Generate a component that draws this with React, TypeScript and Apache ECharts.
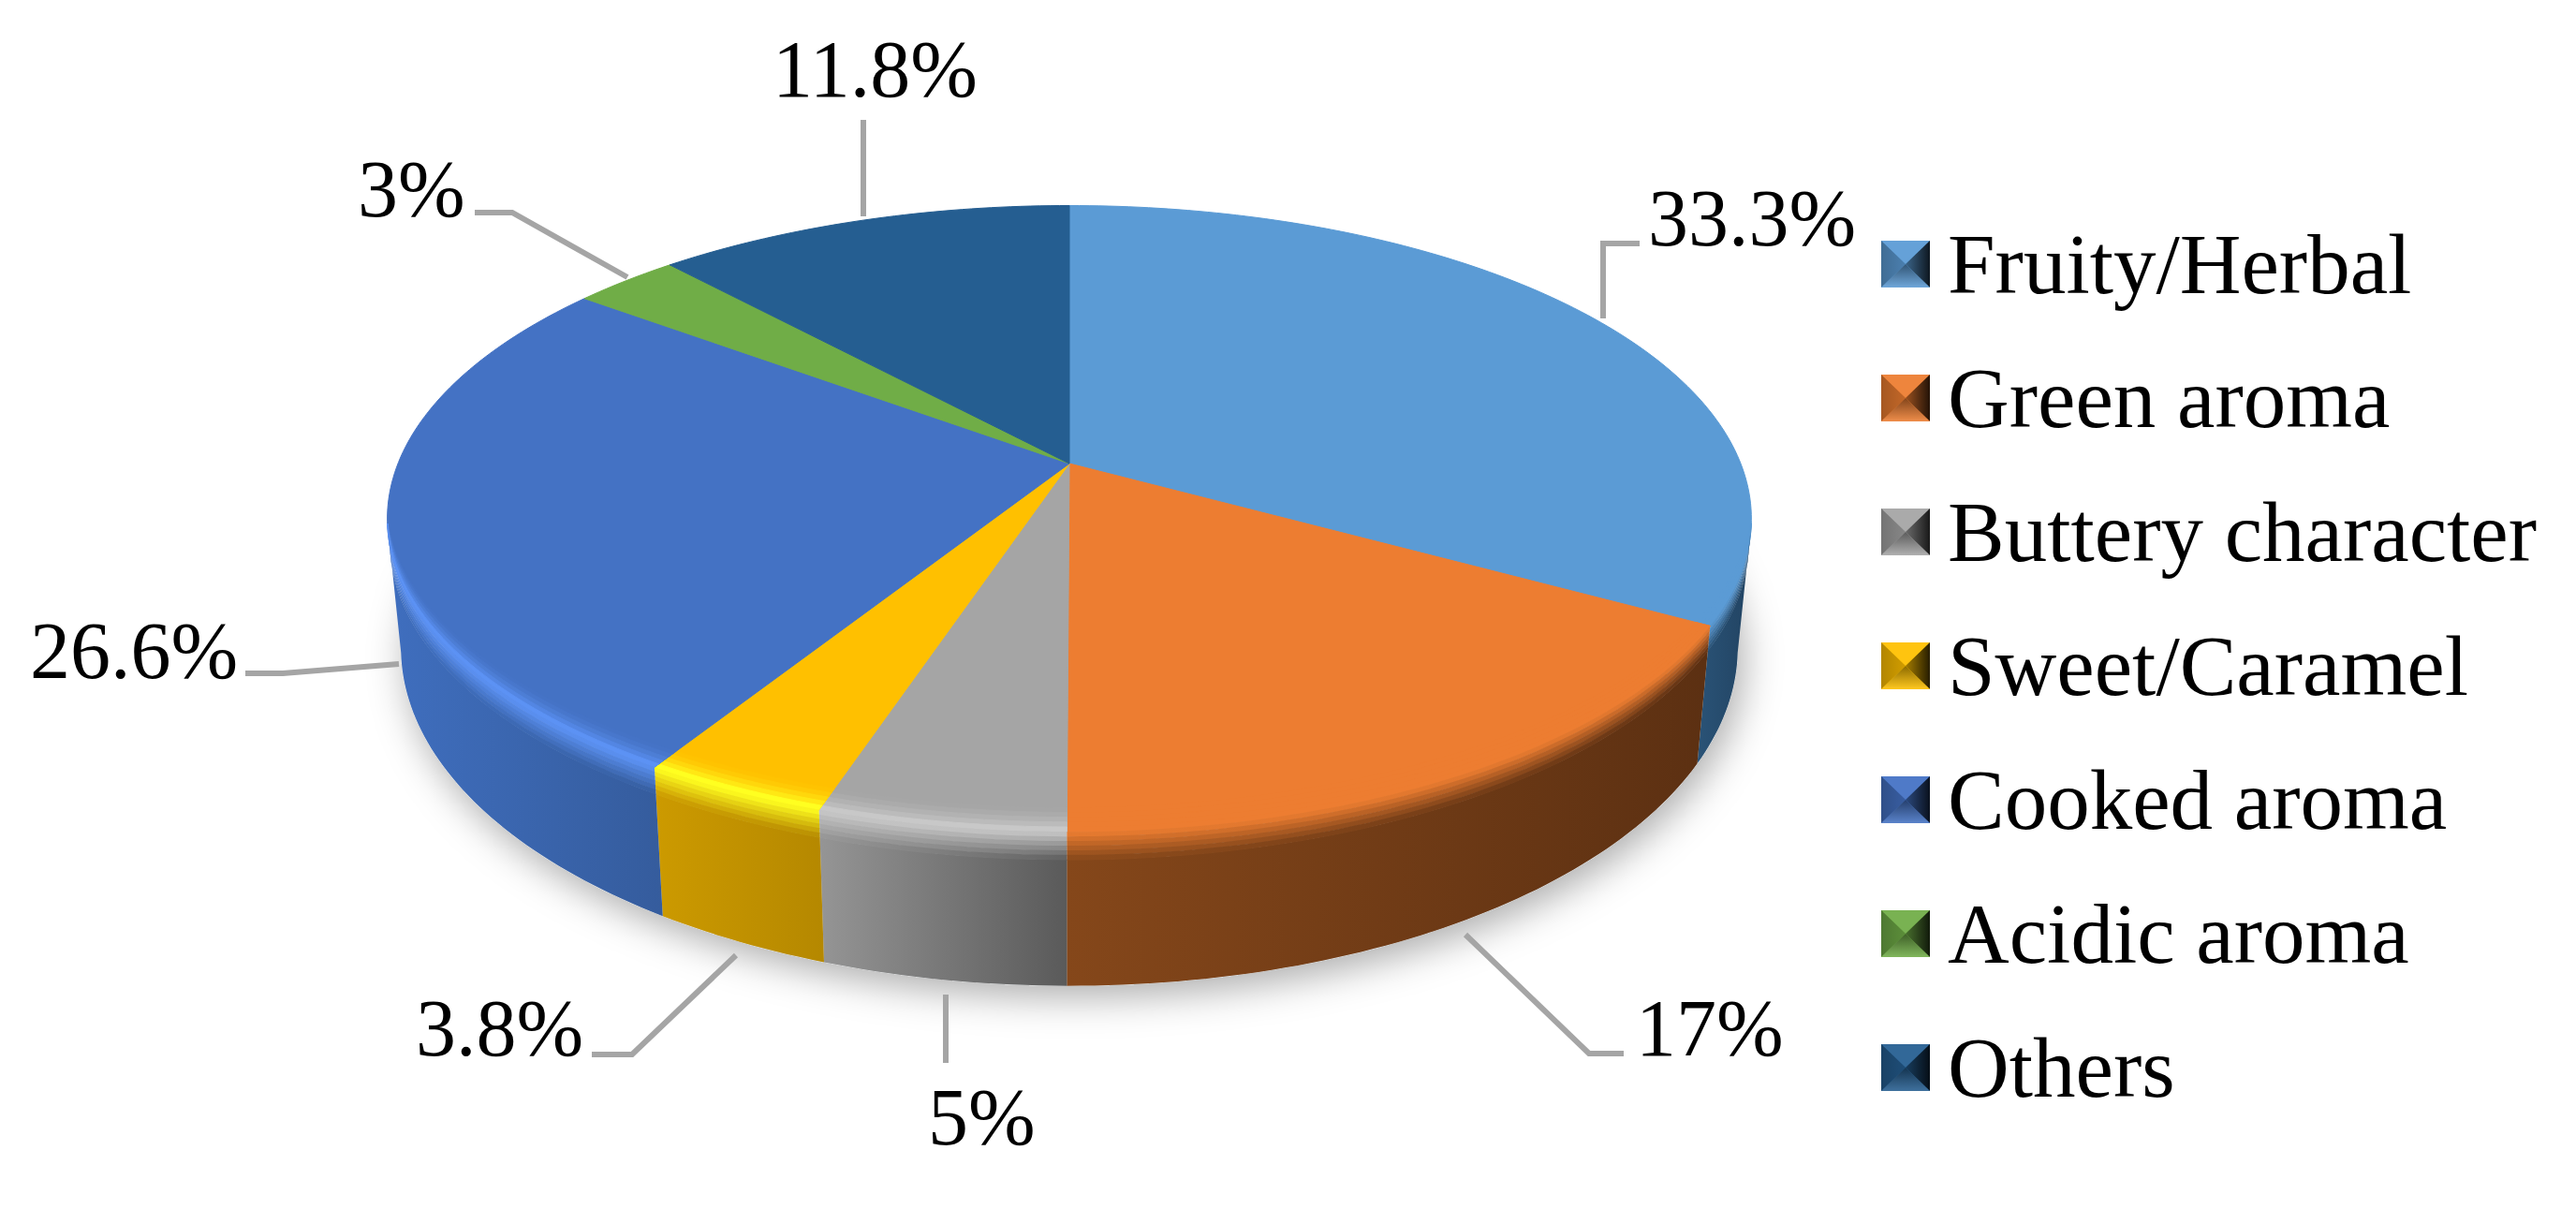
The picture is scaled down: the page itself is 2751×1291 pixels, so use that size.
import React, { useEffect, useRef } from "react";
import * as echarts from "echarts";

const categories = ["Fruity/Herbal", "Green aroma", "Buttery character", "Sweet/Caramel", "Cooked aroma", "Acidic aroma", "Others"];
const shares = [33.3, 17, 5, 3.8, 26.6, 3, 11.8];
const faceColors = ["#5B9BD5", "#ED7D31", "#A5A5A5", "#FFC000", "#4472C4", "#70AD47", "#255E91"];
const rimColors = ["#5B9BD5", "#ED7D31", "#C8C8C8", "#FFFF20", "#5C92F4", "#70AD47", "#255E91"];
const wallLeft = ["#2A5377", "#85471A", "#959595", "#CC9A00", "#3F6EBE", "#436829", "#163856"];
const wallRight = ["#224463", "#5C3012", "#5A5A5A", "#B58800", "#355C9D", "#436829", "#163856"];

const W = 2751;
const H = 1291;
const FONT = '"Liberation Serif", serif';

// Projection of the tilted disc
const CX = 1142;
const CY = 495;
const A = 717;
const B = 324;
const K = 0.176;
const DROP = 133;
const VIS0 = 101;
const VIS1 = 259;

const rad = (d: number) => (d * Math.PI) / 180;
function pt(theta: number, r: number, h: number): number[] {
  const u = Math.sin(rad(theta));
  const v = Math.cos(rad(theta));
  const d = 1 + K * r * v;
  const X = (A * r * u) / d;
  const Y = (B * r * v) / d;
  return [CX + X * (1 - 0.02 * h), CY - Y * (1 + 0.08 * h) + DROP * h];
}
function arc(t0: number, t1: number, r: (t: number) => number, h: number): number[][] {
  const n = Math.max(2, Math.ceil(Math.abs(t1 - t0)));
  const out: number[][] = [];
  for (let i = 0; i <= n; i++) {
    const t = t0 + ((t1 - t0) * i) / n;
    out.push(pt(t, r(t), h));
  }
  return out;
}
function hex(c: string): number[] {
  return [1, 3, 5].map((i) => parseInt(c.slice(i, i + 2), 16));
}
function mix(a: string, b: string, t: number): string {
  const x = hex(a);
  const y = hex(b);
  return "#" + x.map((v, i) => Math.round(v + (y[i] - v) * t).toString(16).padStart(2, "0")).join("");
}
const hgrad = (l: string, r: string) => ({
  type: "linear", x: 0, y: 0, x2: 1, y2: 0,
  colorStops: [{ offset: 0, color: l }, { offset: 1, color: r }],
});

// Leader lines and label anchors, in page pixels
const leaderLayout: number[][][] = [
  [[1712, 340], [1712, 260], [1751, 260]],
  [[1565, 998], [1697, 1125], [1734, 1125]],
  [[1010, 1062], [1010, 1135]],
  [[786, 1020], [675, 1126], [632, 1126]],
  [[426, 709], [302, 719], [262, 719]],
  [[670, 296], [547, 227], [507, 227]],
  [[922, 231], [922, 128]],
];
const labelLayout: number[][] = [
  [1760, 233], [1747, 1098], [991, 1193], [444, 1098], [32, 695], [382, 202], [825, 74],
];
const LABEL_SIZE = 86;
const LEGEND_FONT = 91;
const LEGEND_X = 2009;
const LEGEND_Y = 257;
const LEGEND_W = 52;
const LEGEND_H = 50;
const LEGEND_PITCH = 143;

const total = shares.reduce((s, v) => s + v, 0);
const starts: number[] = [];
shares.reduce((acc, v, i) => {
  starts[i] = acc;
  return acc + v;
}, 0);

function sliceItem(params: any, api: any) {
  const i = params.seriesIndex - 1;
  const t0 = (api.value(0) / total) * 360;
  const t1 = ((api.value(0) + api.value(1)) / total) * 360;
  const children: any[] = [];
  const one = () => 1;

  const v0 = Math.max(t0, VIS0);
  const v1 = Math.min(t1, VIS1);
  const hasWall = v1 > v0;
  const poly = (points: number[][], fill: any, stroke?: string) => ({
    type: "polygon",
    shape: { points },
    style: { fill, stroke: stroke || "none", lineWidth: stroke ? 1 : 0 },
  });

  // wall
  if (hasWall) {
    const top = arc(v0, v1, one, 0.18);
    const bottom = arc(v1, v0, one, 1);
    children.push(poly(top.concat(bottom), hgrad(wallLeft[i], wallRight[i])));
  }

  // top face
  const face = arc(t0, t1, one, 0);
  face.push([CX, CY]);
  children.push(poly(face, faceColors[i], faceColors[i]));

  if (hasWall) {
    // soft rim inside the face edge, narrowing toward the sides of the disc
    const taper = (t: number) => Math.min(1, Math.max(0, (-Math.cos(rad(t)) - 0.176) / 0.824));
    const rimSteps = 5;
    for (let s = 0; s < rimSteps; s++) {
      const a0 = (s + 0) / rimSteps;
      const a1 = (s + 1) / rimSteps;
      const r0 = (t: number) => 1 - (1 - a0) * 0.055 * taper(t);
      const r1 = (t: number) => 1 - (1 - a1) * 0.055 * taper(t);
      const c = mix(faceColors[i], rimColors[i], a1 * a1);
      children.push(poly(arc(v0, v1, r0, 0).concat(arc(v1, v0, r1, 0)), c, c));
    }
    // blur from the rim down into the wall
    const hs = [0, 0.03, 0.06, 0.09, 0.12, 0.15, 0.18];
    for (let s = 0; s < hs.length - 1; s++) {
      const t = (s + 0.5) / (hs.length - 1);
      const l = mix(rimColors[i], wallLeft[i], t);
      const r = mix(rimColors[i], wallRight[i], t);
      const pts = arc(v0, v1, one, hs[s]).concat(arc(v1, v0, one, hs[s + 1] + 0.004));
      children.push(poly(pts, hgrad(l, r)));
    }
  }

  // leader line and value label
  children.push({
    type: "polyline",
    shape: { points: leaderLayout[i] },
    style: { stroke: "#A5A5A5", lineWidth: 6, fill: "none" },
    z2: 5,
  });
  children.push({
    type: "text",
    x: labelLayout[i][0],
    y: labelLayout[i][1],
    style: {
      text: `${api.value(1)}%`,
      fontFamily: FONT,
      fontSize: LABEL_SIZE,
      fill: "#000",
      align: "left",
      verticalAlign: "middle",
    },
    z2: 6,
  });
  return { type: "group", children };
}

function baseItem() {
  const ring = arc(0, 360, () => 1, 1);
  return {
    type: "polygon",
    shape: { points: ring },
    style: {
      fill: "#DDE1E4",
      shadowBlur: 40,
      shadowColor: "rgba(0,0,0,0.32)",
      shadowOffsetY: 12,
      shadowOffsetX: 6,
    },
  };
}

function legendBevels(): any[] {
  const els: any[] = [];
  const Grad = echarts.graphic.LinearGradient;
  faceColors.forEach((c, i) => {
    const x0 = LEGEND_X;
    const x1 = LEGEND_X + LEGEND_W;
    const y0 = LEGEND_Y + i * LEGEND_PITCH;
    const y1 = y0 + LEGEND_H;
    const xm = x0 + LEGEND_W * 0.5;
    const ym = y0 + LEGEND_H * 0.5;
    const tri = (points: number[][], fill: any) => ({
      type: "polygon", z: 100, silent: true, shape: { points }, style: { fill },
    });
    els.push(tri([[x0, y0], [x1, y0], [xm, ym]], mix(c, "#FFFFFF", 0.06)));
    els.push(tri([[x0, y0], [x0, y1], [xm, ym]], new Grad(0, 0, 1, 0, [
      { offset: 0, color: mix(c, "#000000", 0.3) },
      { offset: 1, color: mix(c, "#000000", 0.18) },
    ])));
    els.push(tri([[x1, y0], [x1, y1], [xm, ym]], new Grad(0, 0, 1, 0, [
      { offset: 0, color: mix(c, "#000000", 0.35) },
      { offset: 1, color: mix(c, "#000000", 0.85) },
    ])));
    els.push(tri([[x0, y1], [x1, y1], [xm, ym]], new Grad(0, 1, 0, 0, [
      { offset: 0, color: mix(c, "#FFFFFF", 0.12) },
      { offset: 1, color: mix(c, "#000000", 0.45) },
    ])));
  });
  return els;
}

export default function App() {
  const ref = useRef<HTMLDivElement>(null);
  useEffect(() => {
    document.body.style.margin = "0";
    const chart = echarts.init(ref.current!, undefined, { renderer: "svg" });
    chart.setOption({
      animation: false,
      backgroundColor: "#FFFFFF",
      legend: {
        data: categories,
        orient: "vertical",
        left: LEGEND_X,
        top: LEGEND_Y - (LEGEND_FONT - LEGEND_H) / 2,
        padding: 0,
        itemWidth: LEGEND_W,
        itemHeight: LEGEND_H,
        itemGap: LEGEND_PITCH - LEGEND_FONT,
        icon: "rect",
        selectedMode: false,
        textStyle: {
          fontFamily: FONT,
          fontSize: LEGEND_FONT,
          color: "#000",
          padding: [0, 0, 0, 14],
        },
      },
      graphic: { elements: legendBevels() },
      series: [
        {
          type: "custom",
          name: "base",
          coordinateSystem: "none",
          silent: true,
          data: [[0]],
          renderItem: baseItem,
        },
        ...categories.map((name, i) => ({
          type: "custom",
          name,
          coordinateSystem: "none",
          silent: true,
          itemStyle: { color: faceColors[i] },
          encode: { value: [0, 1] },
          data: [[starts[i], shares[i]]],
          renderItem: sliceItem,
        })),
      ],
    });
    return () => chart.dispose();
  }, []);
  return <div ref={ref} style={{ position: "fixed", left: 0, top: 0, width: W, height: H }} />;
}
